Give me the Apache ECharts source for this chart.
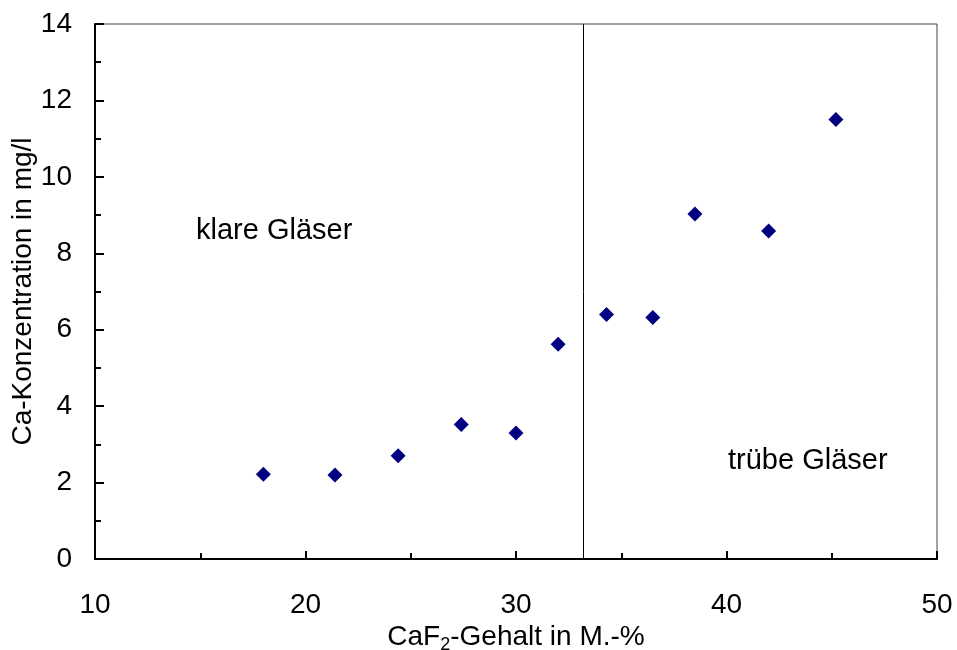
<!DOCTYPE html>
<html>
<head>
<meta charset="utf-8">
<script src="https://cdn.jsdelivr.net/npm/echarts@6/dist/echarts.min.js"></script>
<style>html,body{margin:0;padding:0;background:#fff}#c{width:957px;height:650px}</style>
</head>
<body>
<div id="c"></div>
<script>
// Data
var caf2 = [18.0, 21.4, 24.4, 27.4, 30.0, 32.0, 34.3, 36.5, 38.5, 42.0, 45.2];
var caConc = [2.22, 2.20, 2.70, 3.52, 3.30, 5.62, 6.40, 6.32, 9.03, 8.58, 11.50];
var boundaryX = 33.2;
var xTicks = [10, 20, 30, 40, 50];
var yTicks = [0, 2, 4, 6, 8, 10, 12, 14];
var labelClear = 'klare Gläser';
var labelCloudy = 'trübe Gläser';

var FONT = '"Liberation Sans", Arial, sans-serif';
var pts = caf2.map(function (x, i) { return [x, caConc[i]]; });

var chart = echarts.init(document.getElementById('c'), null, { renderer: 'canvas' });
chart.setOption({
  animation: false,
  backgroundColor: '#ffffff',
  grid: { left: 95, right: 20, top: 24, bottom: 91, show: true, borderColor: '#444', borderWidth: 1, backgroundColor: 'transparent', containLabel: false, outerBoundsMode: 'none' },
  xAxis: {
    type: 'value', min: xTicks[0], max: xTicks[xTicks.length - 1], interval: 10,
    name: 'CaF{sub|2}-Gehalt in M.-%',
    nameLocation: 'middle', nameGap: 61, nameMoveOverlap: false,
    nameTextStyle: {
      fontFamily: FONT, fontSize: 28, color: '#000',
      rich: { sub: { fontFamily: FONT, fontSize: 18, color: '#000', verticalAlign: 'bottom', padding: [16, 0, 0, 0] } }
    },
    axisLine: { show: true, lineStyle: { color: '#000', width: 2 } },
    axisTick: { show: true, inside: true, length: 8, lineStyle: { color: '#000', width: 2 } },
    minorTick: { show: true, splitNumber: 2, length: 6, lineStyle: { color: '#000', width: 2 } },
    axisLabel: { fontFamily: FONT, fontSize: 28, color: '#000', margin: 32 },
    splitLine: { show: false }
  },
  yAxis: {
    type: 'value', min: yTicks[0], max: yTicks[yTicks.length - 1], interval: 2,
    name: 'Ca-Konzentration in mg/l',
    nameLocation: 'middle', nameGap: 58, nameRotate: 90, nameMoveOverlap: false,
    nameTextStyle: { fontFamily: FONT, fontSize: 28, color: '#000' },
    axisLine: { show: true, lineStyle: { color: '#000', width: 2 } },
    axisTick: { show: true, inside: true, length: 9, lineStyle: { color: '#000', width: 2 } },
    minorTick: { show: true, splitNumber: 2, length: 6, lineStyle: { color: '#000', width: 2 } },
    axisLabel: { fontFamily: FONT, fontSize: 28, color: '#000', margin: 23 },
    splitLine: { show: false }
  },
  series: [{
    type: 'scatter',
    data: pts,
    symbol: 'diamond',
    symbolSize: 15,
    itemStyle: { color: '#000080', opacity: 1 },
    markLine: {
      silent: true, symbol: ['none', 'none'],
      label: { show: false },
      lineStyle: { color: '#000', width: 1, type: 'solid' },
      data: [{ xAxis: boundaryX }]
    }
  }],
  graphic: [
    { type: 'text', left: 196, top: 216, style: { text: labelClear, font: '29px ' + FONT, fill: '#000' } },
    { type: 'text', left: 728, top: 446, style: { text: labelCloudy, font: '29px ' + FONT, fill: '#000' } }
  ]
});
</script>
</body>
</html>
